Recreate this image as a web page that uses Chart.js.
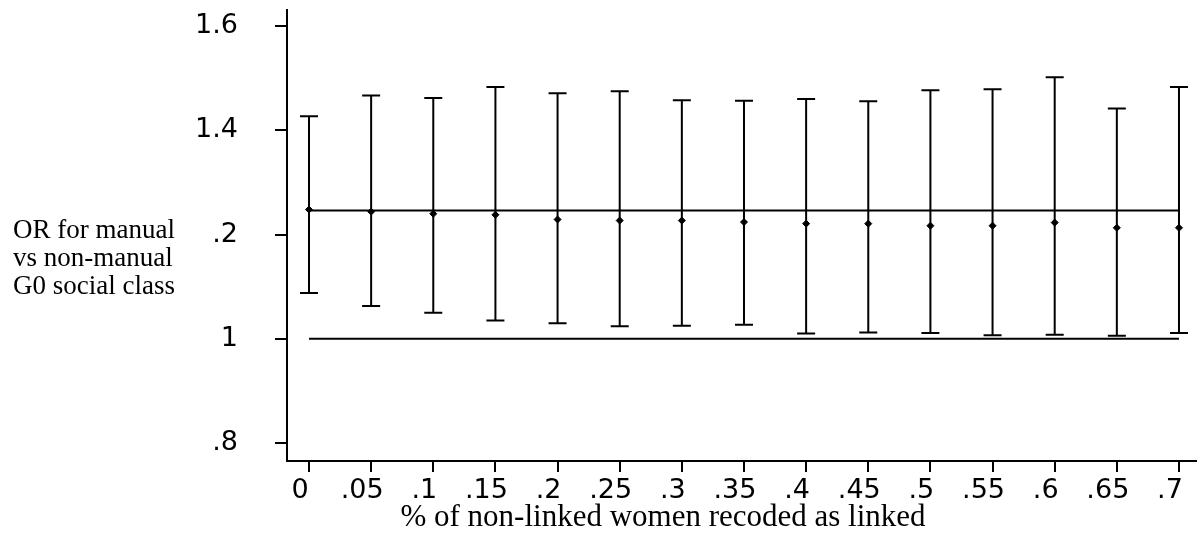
<!DOCTYPE html>
<html>
<head>
<meta charset="utf-8">
<script src="https://cdn.jsdelivr.net/npm/chart.js@4"></script>
<style>
  html, body { margin: 0; padding: 0; background: #fff; }
  #wrap { width: 1197px; height: 536px; }
</style>
</head>
<body>
<div id="wrap"><canvas id="chart" width="1197" height="536"></canvas></div>
<script>
// share of non-linked women recoded as linked
const recoded = [0, 0.05, 0.1, 0.15, 0.2, 0.25, 0.3, 0.35, 0.4, 0.45, 0.5, 0.55, 0.6, 0.65, 0.7];
// odds ratio and 95% CI
const oddsRatio = [1.248, 1.244, 1.240, 1.238, 1.229, 1.227, 1.227, 1.224, 1.221, 1.221, 1.217, 1.217, 1.223, 1.213, 1.213];
const ciUpper = [1.427, 1.467, 1.462, 1.483, 1.471, 1.475, 1.458, 1.457, 1.460, 1.456, 1.477, 1.479, 1.502, 1.442, 1.483];
const ciLower = [1.088, 1.063, 1.050, 1.035, 1.030, 1.024, 1.025, 1.027, 1.010, 1.012, 1.011, 1.007, 1.008, 1.006, 1.011];
const baselineOR = 1.246;
const nullOR = 1;

const yTicks = [0.8, 1, 1.2, 1.4, 1.6];
const yTickLabels = [".8", "1", ".2", "1.4", "1.6"];
const xTickLabels = ["0", ".05", ".1", ".15", ".2", ".25", ".3", ".35", ".4", ".45", ".5", ".55", ".6", ".65", ".7"];

const yTitle = ["OR for manual", "vs non-manual", "G0 social class"];
const xTitle = "% of non-linked women recoded as linked";

const tickFont = { family: "'DejaVu Sans', sans-serif", size: 27 };

const errorBars = {
  id: "errorBars",
  afterDatasetsDraw(chart) {
    const { ctx, scales: { x, y } } = chart;
    ctx.save();
    ctx.strokeStyle = "#000";
    ctx.lineWidth = 2;
    recoded.forEach((v, i) => {
      const px = x.getPixelForValue(v);
      const top = y.getPixelForValue(ciUpper[i]);
      const bot = y.getPixelForValue(ciLower[i]);
      ctx.beginPath();
      ctx.moveTo(px, top); ctx.lineTo(px, bot);
      ctx.moveTo(px - 9, top); ctx.lineTo(px + 9, top);
      ctx.moveTo(px - 9, bot); ctx.lineTo(px + 9, bot);
      ctx.stroke();
    });
    ctx.restore();
  }
};

const axisTitles = {
  id: "axisTitles",
  afterDraw(chart) {
    const ctx = chart.ctx;
    ctx.save();
    ctx.fillStyle = "#000";
    ctx.textBaseline = "alphabetic";
    ctx.font = "27px 'Liberation Serif', 'Times New Roman', serif";
    ctx.textAlign = "left";
    yTitle.forEach((line, i) => ctx.fillText(line, 13, 238 + i * 28));
    ctx.font = "31px 'Liberation Serif', 'Times New Roman', serif";
    ctx.textAlign = "center";
    ctx.fillText(xTitle, 663, 526);
    ctx.restore();
  }
};

new Chart(document.getElementById("chart"), {
  type: "scatter",
  data: {
    datasets: [
      {
        label: "baseline",
        type: "line",
        data: [{ x: recoded[0], y: baselineOR }, { x: recoded[recoded.length - 1], y: baselineOR }],
        borderColor: "#000",
        borderWidth: 2,
        pointRadius: 0,
        order: 3
      },
      {
        label: "null",
        type: "line",
        data: [{ x: recoded[0], y: nullOR }, { x: recoded[recoded.length - 1], y: nullOR }],
        borderColor: "#000",
        borderWidth: 2,
        pointRadius: 0,
        order: 3
      },
      {
        label: "OR",
        data: recoded.map((v, i) => ({ x: v, y: oddsRatio[i] })),
        pointStyle: "rectRot",
        pointRadius: 3.5,
        backgroundColor: "#000",
        borderColor: "#000",
        order: 1
      }
    ]
  },
  options: {
    responsive: false,
    animation: false,
    layout: { autoPadding: false, padding: { top: 10, right: 0, left: 0, bottom: 0 } },
    plugins: { legend: { display: false }, tooltip: { enabled: false } },
    scales: {
      x: {
        type: "linear",
        min: -0.0177,
        max: 0.7145,
        afterBuildTicks: (scale) => { scale.ticks = recoded.map(v => ({ value: v })); },
        afterFit: (scale) => {
          scale.height = 75;
          scale.paddingLeft = 0;
          scale.paddingRight = 0;
        },
        ticks: {
          color: "#000",
          padding: 3,
          labelOffset: -9,
          maxRotation: 0,
          autoSkip: false,
          font: tickFont,
          callback: (v, i) => xTickLabels[i]
        },
        grid: { drawOnChartArea: false, tickLength: 11, color: "#000", lineWidth: 2 },
        border: { color: "#000", width: 2 }
      },
      y: {
        min: 0.7655,
        max: 1.631,
        afterBuildTicks: (scale) => { scale.ticks = yTicks.map(v => ({ value: v })); },
        afterFit: (scale) => {
          scale.width = 287;
          scale.paddingTop = 0;
          scale.paddingBottom = 0;
        },
        ticks: {
          color: "#000",
          padding: 37,
          font: tickFont,
          callback: (v, i) => yTickLabels[i]
        },
        grid: { drawOnChartArea: false, tickLength: 12, color: "#000", lineWidth: 2 },
        border: { color: "#000", width: 2 }
      }
    }
  },
  plugins: [errorBars, axisTitles]
});
</script>
</body>
</html>
